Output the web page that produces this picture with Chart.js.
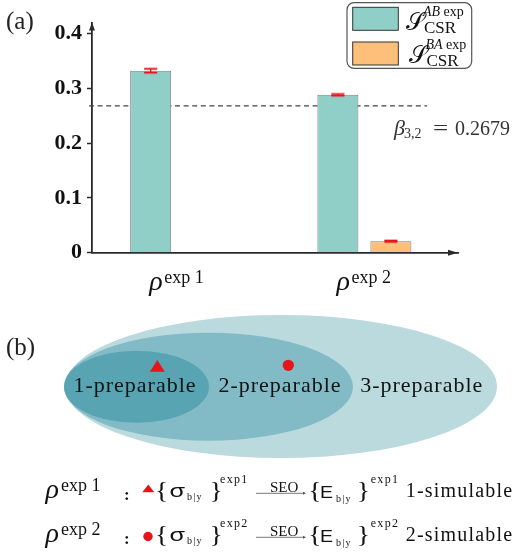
<!DOCTYPE html>
<html><head><meta charset="utf-8">
<script src="https://cdn.jsdelivr.net/npm/chart.js@4"></script>
<style>html,body{margin:0;padding:0;background:#fff}#wrap{width:514px;height:552px;position:relative}</style>
</head><body><div id="wrap"><canvas id="c" width="514" height="552"></canvas></div>
<script>
// ---------- data ----------
const categories = ['exp 1', 'exp 2'];          // superscripts of ρ
const seriesAB = [0.332, 0.288];
const seriesBA = [null, 0.021];
const errorsAB = [0.0035, 0.0015];
const errorsBA = [null, 0.0012];
const yTickValues = [0, 0.1, 0.2, 0.3, 0.4];
const yTickLabels = ['0', '0.1', '0.2', '0.3', '0.4'];
const betaValue = 0.2679;
const betaText = '0.2679';
const legendSup = [['AB', ' exp'], ['BA', ' exp']];
const setLabels = ['1-preparable', '2-preparable', '3-preparable'];
const rowSuper = ['exp1', 'exp2'];
const rowResult = ['1-simulable', '2-simulable'];

// ---------- style ----------
const TEAL = '#8fcfc8', ORANGE = '#fdbf79', AXIS = '#2a2a2a', RED = '#e8141c';
const SERIF = '"Liberation Serif", "Times New Roman", serif';
const SANS = '"Liberation Sans", Arial, sans-serif';

function txt(ctx, s, x, y, font, color, align, spacing, sx) {
  ctx.save();
  ctx.font = font; ctx.fillStyle = color || '#111';
  ctx.textAlign = align || 'left'; ctx.textBaseline = 'alphabetic';
  ctx.letterSpacing = (spacing || 0) + 'px';
  ctx.translate(x, y);
  if (sx) ctx.scale(sx, 1);
  ctx.fillText(s, 0, 0);
  const w = ctx.measureText(s).width * (sx || 1);
  ctx.restore();
  return w;
}

const toPts = (arr) => arr.map((v, i) => ({ x: i, y: v }));

const decorations = {
  id: 'decorations',
  beforeDatasetsDraw(chart) {
    const { ctx, chartArea, scales: { x, y } } = chart;
    const yy = y.getPixelForValue(betaValue);
    ctx.save();
    ctx.strokeStyle = '#444'; ctx.lineWidth = 1.3; ctx.setLineDash([5, 3.6]);
    ctx.beginPath(); ctx.moveTo(chartArea.left - 3, yy); ctx.lineTo(x.getPixelForValue(1.335), yy); ctx.stroke();
    ctx.restore();
  },
  afterDatasetsDraw(chart) {
    const { ctx, scales: { y } } = chart;
    const errs = [errorsAB, errorsBA];
    chart.data.datasets.forEach((ds, di) => {
      const meta = chart.getDatasetMeta(di);
      meta.data.forEach((el, i) => {
        const v = ds.data[i].y, e = errs[di][i];
        if (v == null || e == null) return;
        const y1 = y.getPixelForValue(v + e), y2 = y.getPixelForValue(v - e);
        const cx = el.x, hw = 6.5;
        ctx.save();
        ctx.strokeStyle = 'rgba(232,20,28,0.35)'; ctx.lineWidth = 3;
        ctx.beginPath();
        ctx.moveTo(cx - hw, y1); ctx.lineTo(cx + hw, y1);
        ctx.moveTo(cx - hw, y2); ctx.lineTo(cx + hw, y2);
        ctx.stroke();
        ctx.strokeStyle = RED; ctx.lineWidth = 1.3;
        ctx.beginPath();
        ctx.moveTo(cx - hw, y1); ctx.lineTo(cx + hw, y1);
        ctx.moveTo(cx - hw, y2); ctx.lineTo(cx + hw, y2);
        ctx.moveTo(cx, y1); ctx.lineTo(cx, y2);
        ctx.stroke();
        ctx.restore();
      });
    });
  },
  afterDraw(chart) {
    const { ctx, chartArea, scales: { x, y } } = chart;
    // axis arrows
    ctx.save();
    ctx.fillStyle = AXIS;
    ctx.beginPath();
    ctx.moveTo(chartArea.left, chartArea.top);
    ctx.lineTo(chartArea.left - 3, chartArea.top + 8);
    ctx.lineTo(chartArea.left + 3, chartArea.top + 8);
    ctx.closePath(); ctx.fill();
    ctx.beginPath();
    ctx.moveTo(chartArea.right, chartArea.bottom);
    ctx.lineTo(chartArea.right - 10, chartArea.bottom - 3);
    ctx.lineTo(chartArea.right - 10, chartArea.bottom + 3);
    ctx.closePath(); ctx.fill();
    ctx.restore();

    // panel labels
    txt(ctx, '(a)', 6, 29, '25px ' + SERIF, '#222');
    txt(ctx, '(b)', 6, 355, '25px ' + SERIF, '#222');

    // category labels
    categories.forEach((c, i) => {
      const cx = x.getPixelForValue(i);
      txt(ctx, 'ρ', cx - 28, 290, 'italic 28px ' + SERIF, '#111');
      txt(ctx, c, cx - 13, 283, '18px ' + SERIF, '#111');
    });

    // beta label
    const by = y.getPixelForValue(betaValue) + 29;
    txt(ctx, 'β', 394, by, 'italic 22px ' + SERIF, '#333');
    txt(ctx, '3,2', 404, by + 3, '14px ' + SERIF, '#333');
    txt(ctx, '=', 433, by, '20px ' + SERIF, '#333', 'left', 0, 1.35);
    txt(ctx, betaText, 455, by, '20px ' + SERIF, '#333');

    // legend
    ctx.save();
    ctx.beginPath(); ctx.roundRect(347, 2.7, 124.7, 65.6, 7);
    ctx.fillStyle = '#fff'; ctx.fill();
    ctx.strokeStyle = '#555'; ctx.lineWidth = 1.2; ctx.stroke();
    ctx.restore();
    chart.data.datasets.forEach((ds, i) => {
      const sy = 7.3 + i * 34.7;
      ctx.save();
      ctx.fillStyle = ds.backgroundColor; ctx.fillRect(352.7, sy, 45.6, 23);
      ctx.strokeStyle = '#333'; ctx.lineWidth = 1; ctx.strokeRect(352.7, sy, 45.6, 23);
      ctx.restore();
      const ty = 16 + i * 33.3, tx = 406 + i * 2.5;
      const ws = txt(ctx, '𝒮', tx, ty + 14, '24px "DejaVu Serif", "DejaVu Sans", ' + SERIF, '#111');
      const ox = Math.max(17, ws - 3);
      const w = txt(ctx, legendSup[i][0], tx + ox, ty, 'italic 14px ' + SERIF, '#111');
      txt(ctx, legendSup[i][1], tx + ox + w, ty, '14px ' + SERIF, '#111');
      txt(ctx, 'CSR', tx + ox + 1, ty + 16.7, '17px ' + SERIF, '#111');
    });

    // ---------- panel (b) ----------
    ctx.save();
    const ells = [[281, 386.5, 216, 71.5, '#badade'], [208.5, 386.7, 144.5, 54, '#82bac6'], [136.5, 386.7, 72.5, 36, '#59a4b3']];
    ells.forEach(([cx, cy, rx, ry, col]) => {
      ctx.beginPath(); ctx.ellipse(cx, cy, rx, ry, 0, 0, Math.PI * 2); ctx.fillStyle = col; ctx.fill();
    });
    ctx.restore();
    const setX = [135, 280, 421.7];
    setLabels.forEach((s, i) => txt(ctx, s, setX[i], 391.7, '22px ' + SERIF, '#111', 'center', 1));
    ctx.save(); ctx.fillStyle = RED;
    ctx.beginPath(); ctx.moveTo(157.3, 360); ctx.lineTo(164.8, 371.7); ctx.lineTo(149.8, 371.7); ctx.closePath(); ctx.fill();
    ctx.beginPath(); ctx.arc(288.3, 365.3, 5.6, 0, Math.PI * 2); ctx.fill();
    ctx.restore();

    // rows
    categories.forEach((c, i) => {
      const b = 491.3 + i * 44;
      txt(ctx, 'ρ', 45.5, b + 7, 'italic 28px ' + SERIF, '#111');
      txt(ctx, c, 61, b, '18px ' + SERIF, '#111');
      txt(ctx, ':', 124, b + 8.7, 'bold 17px ' + SERIF, '#111');
      ctx.save(); ctx.fillStyle = RED; ctx.beginPath();
      if (i === 0) { ctx.moveTo(148.3, b - 6.8); ctx.lineTo(154.3, b + 1); ctx.lineTo(142.3, b + 1); ctx.closePath(); }
      else { ctx.arc(148, b + 1.2, 4.7, 0, Math.PI * 2); }
      ctx.fill(); ctx.restore();
      txt(ctx, '{', 155, b + 6.4, '23px ' + SERIF, '#111', 'left', 0, 1.2);
      txt(ctx, 'σ', 169.5, b + 5.4, '18px ' + SANS, '#111', 'left', 0, 1.4);
      txt(ctx, 'b|y', 187, b + 8.5, '10px ' + SERIF, '#111', 'left', 1.2);
      txt(ctx, '}', 209.5, b + 6.4, '23px ' + SERIF, '#111', 'left', 0, 1.2);
      txt(ctx, rowSuper[i], 220, b - 8, '12px ' + SERIF, '#111', 'left', 1.3);
      ctx.save(); ctx.strokeStyle = '#777'; ctx.lineWidth = 1;
      ctx.beginPath(); ctx.moveTo(256, b + 2); ctx.lineTo(304, b + 2); ctx.stroke();
      ctx.fillStyle = '#555'; ctx.beginPath(); ctx.moveTo(306, b + 2); ctx.lineTo(303, b + 0.5); ctx.lineTo(303, b + 3.5); ctx.closePath(); ctx.fill();
      ctx.restore();
      txt(ctx, 'SEO', 270, b + 0.4, '15px ' + SERIF, '#111');
      txt(ctx, '{', 308.3, b + 6.4, '23px ' + SERIF, '#111', 'left', 0, 1.2);
      txt(ctx, 'E', 320, b + 7, '17px ' + SANS, '#111', 'left', 0, 1.15);
      txt(ctx, 'b|y', 336, b + 10.5, '10px ' + SERIF, '#111', 'left', 1.2);
      txt(ctx, '}', 356.7, b + 6.4, '23px ' + SERIF, '#111', 'left', 0, 1.2);
      txt(ctx, rowSuper[i], 370.7, b - 8, '12px ' + SERIF, '#111', 'left', 1.3);
      txt(ctx, rowResult[i], 405.7, b + 6, '20px ' + SERIF, '#111', 'left', 1.2);
    });
  }
};

new Chart(document.getElementById('c'), {
  type: 'bar',
  data: {
    datasets: [
      { label: 'S_CSR^AB exp', data: toPts(seriesAB), backgroundColor: TEAL, borderColor: '#808080', borderWidth: 1 },
      { label: 'S_CSR^BA exp', data: toPts(seriesBA), backgroundColor: ORANGE, borderColor: '#808080', borderWidth: 1 }
    ]
  },
  options: {
    responsive: false, animation: false, events: [],
    devicePixelRatio: 1,
    categoryPercentage: 0.5663, barPercentage: 0.7736,
    layout: { padding: { left: 0, top: 22.5, right: 56, bottom: 299.3 } },
    plugins: { legend: { display: false }, tooltip: { enabled: false } },
    scales: {
      x: {
        type: 'linear', min: -0.455, max: 1.5, offset: false,
        afterBuildTicks: (s) => { s.ticks = categories.map((c, i) => ({ value: i })); },
        afterFit: (s) => { s.height = 0; },
        ticks: { display: false },
        grid: { display: true, offset: false, drawOnChartArea: false, drawTicks: false },
        border: { display: true, color: AXIS, width: 1.8 }
      },
      y: {
        min: 0, max: 0.42,
        afterBuildTicks: (s) => { s.ticks = yTickValues.map(v => ({ value: v })); },
        afterFit: (s) => { s.width = 92; },
        ticks: {
          callback: (v) => { const k = yTickValues.findIndex(t => Math.abs(t - v) < 1e-9); return k >= 0 ? yTickLabels[k] : ''; },
          font: { family: SERIF, size: 22, weight: 'bold' }, color: '#111', padding: 5
        },
        grid: { display: true, drawOnChartArea: false, drawTicks: true, tickLength: 5, tickColor: AXIS, tickWidth: 1.5 },
        border: { display: true, color: AXIS, width: 1.8 }
      }
    }
  },
  plugins: [decorations]
});
</script>
</body></html>
